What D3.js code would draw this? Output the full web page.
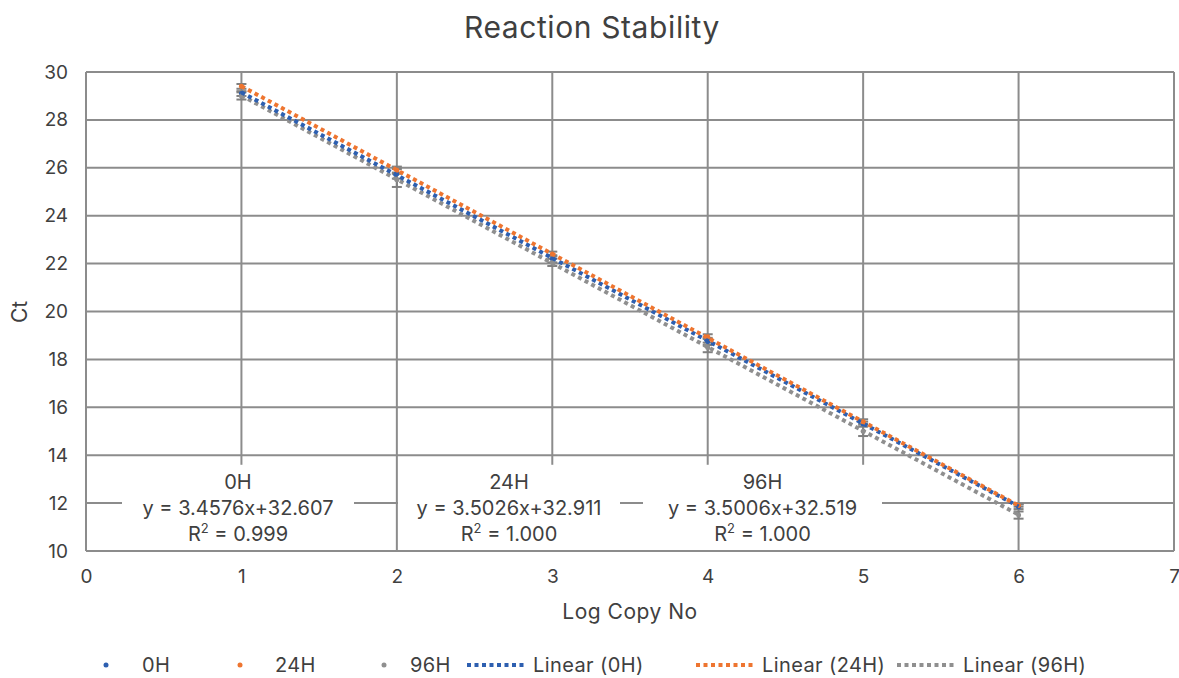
<!DOCTYPE html>
<html>
<head>
<meta charset="utf-8">
<script src="https://cdn.jsdelivr.net/npm/d3@7"></script>
<style>
  body { margin: 0; background: #fff; }
  svg text { font-family: Inter, "Noto Sans", sans-serif; fill: #404040; }
</style>
</head>
<body>
<div id="chart"></div>
<script>
// Data
const logCopy = [1, 2, 3, 4, 5, 6];
const seriesNames = ['0H', '24H', '96H'];
const ct0H = [29.10, 25.75, 22.20, 18.75, 15.30, 11.85];
const ct24H = [29.40, 25.90, 22.40, 18.95, 15.40, 11.90];
const ct96H = [29.00, 25.50, 22.05, 18.50, 15.00, 11.50];
const sd0H = [0.10, 0.20, 0.15, 0.15, 0.10, 0.10];
const sd24H = [0.10, 0.15, 0.10, 0.10, 0.10, 0.05];
const sd96H = [0.15, 0.30, 0.15, 0.20, 0.20, 0.15];
const slopes = [-3.4576, -3.5026, -3.5006];
const intercepts = [32.607, 32.911, 32.519];
const eqLabels = ['y = 3.4576x+32.607', 'y = 3.5026x+32.911', 'y = 3.5006x+32.519'];
const r2Labels = ['0.999', '1.000', '1.000'];
const xTicks = [0, 1, 2, 3, 4, 5, 6, 7];
const yTicks = [10, 12, 14, 16, 18, 20, 22, 24, 26, 28, 30];

const colors = ['#2d5fb0', '#ee7530', '#8f8f8f'];
const ctData = [ct0H, ct24H, ct96H];
const sdData = [sd0H, sd24H, sd96H];

const W = 1179, H = 678;
const margin = {top: 72, right: 5, bottom: 127, left: 86};
const height = H - margin.top - margin.bottom;

const svg = d3.select('#chart').append('svg')
  .attr('width', W).attr('height', H);

svg.append('text')
  .attr('x', 592).attr('y', 38)
  .attr('text-anchor', 'middle')
  .style('font-size', '30px')
  .style('letter-spacing', '0.6px')
  .text('Reaction Stability');

const g = svg.append('g')
  .attr('transform', `translate(${margin.left},${margin.top})`);

const x = d3.scaleLinear().domain([0, 7]).range([0, 1174 - margin.left]);
const y = d3.scaleLinear().domain([10, 30]).range([height, 0]);

const gridColor = '#8c8c8c';

// Grid
g.selectAll('.hgrid').data(yTicks).enter().append('line')
  .attr('x1', 0).attr('x2', x(7))
  .attr('y1', d => y(d)).attr('y2', d => y(d))
  .attr('stroke', gridColor).attr('stroke-width', 2);
g.selectAll('.vgrid').data(xTicks).enter().append('line')
  .attr('x1', d => x(d)).attr('x2', d => x(d))
  .attr('y1', 0).attr('y2', height)
  .attr('stroke', gridColor).attr('stroke-width', 2);

// Axes labels
const yAxis = d3.axisLeft(y).tickValues(yTicks).tickSize(0).tickPadding(18);
g.append('g').call(yAxis).call(s => s.select('.domain').remove())
  .selectAll('text').style('font-size', '19px').style('font-family', 'Inter, sans-serif').attr('fill', '#404040');
const xAxis = d3.axisBottom(x).tickValues(xTicks).tickFormat(d3.format('d')).tickSize(0).tickPadding(19);
g.append('g').attr('transform', `translate(0,${height})`)
  .call(xAxis).call(s => s.select('.domain').remove())
  .selectAll('text').style('font-size', '19px').style('font-family', 'Inter, sans-serif').attr('fill', '#404040');

svg.append('text')
  .attr('x', 630).attr('y', 619)
  .attr('text-anchor', 'middle')
  .style('font-size', '21px')
  .style('letter-spacing', '0.5px')
  .text('Log Copy No');
svg.append('text')
  .attr('transform', 'translate(27,312) rotate(-90)')
  .attr('text-anchor', 'middle')
  .style('font-size', '21px')
  .text('Ct');

// Trendline label boxes (white, covering grid)
const labelBoxes = [[122, 354], [398, 620], [643, 882]];
labelBoxes.forEach((b, i) => {
  g.append('rect')
    .attr('x', b[0] - margin.left).attr('y', y(13.6))
    .attr('width', b[1] - b[0]).attr('height', y(10) - y(13.6) - 1)
    .attr('fill', '#fff');
  const cx = (b[0] + b[1]) / 2 - margin.left;
  const t = g.append('text').attr('text-anchor', 'middle').style('font-size', '20px');
  t.append('tspan').attr('x', cx).attr('y', y(12.6)).text(seriesNames[i]);
  t.append('tspan').attr('x', cx).attr('y', y(11.5)).text(eqLabels[i]);
  const r = t.append('tspan').attr('x', cx).attr('y', y(10.4));
  r.append('tspan').text('R');
  r.append('tspan').attr('dy', -8).style('font-size', '13px').text('2');
  r.append('tspan').attr('dy', 8).text(' = ' + r2Labels[i]);
});

// Error bars
const errColor = '#808080';
ctData.forEach((vals, si) => {
  vals.forEach((v, i) => {
    const sd = sdData[si][i];
    const px = x(logCopy[i]);
    g.append('line').attr('x1', px).attr('x2', px)
      .attr('y1', y(v - sd)).attr('y2', y(v + sd))
      .attr('stroke', errColor).attr('stroke-width', 2);
    [v - sd, v + sd].forEach(e => {
      g.append('line').attr('x1', px - 5).attr('x2', px + 5)
        .attr('y1', y(e)).attr('y2', y(e))
        .attr('stroke', errColor).attr('stroke-width', 2);
    });
  });
});

// Points
ctData.forEach((vals, si) => {
  g.selectAll('.pt' + si).data(vals).enter().append('circle')
    .attr('cx', (d, i) => x(logCopy[i])).attr('cy', d => y(d))
    .attr('r', 2.5).attr('fill', colors[si]);
});

// Trendlines
const line = d3.line().x(d => x(d[0])).y(d => y(d[1]));
[2, 0, 1].forEach(si => {
  const xs = [d3.min(logCopy), d3.max(logCopy)];
  const pts = xs.map(v => [v, slopes[si] * v + intercepts[si]]);
  g.append('path').attr('d', line(pts))
    .attr('fill', 'none').attr('stroke', colors[si])
    .attr('stroke-width', 4).attr('stroke-dasharray', '4 3.5');
});

// Legend
const legY = 665;
const legMarkers = [106, 240, 384];
const legMarkerText = [142, 275, 410];
seriesNames.forEach((n, i) => {
  svg.append('circle').attr('cx', legMarkers[i]).attr('cy', legY).attr('r', 2.5).attr('fill', colors[i]);
  svg.append('text').attr('x', legMarkerText[i]).attr('y', legY + 7)
    .style('font-size', '20px').style('letter-spacing', '0.4px').text(n);
});
const legLines = [467, 696, 897];
seriesNames.forEach((n, i) => {
  svg.append('line').attr('x1', legLines[i]).attr('x2', legLines[i] + 58)
    .attr('y1', legY).attr('y2', legY)
    .attr('stroke', colors[i]).attr('stroke-width', 4).attr('stroke-dasharray', '4 3.5');
  svg.append('text').attr('x', legLines[i] + 66).attr('y', legY + 7)
    .style('font-size', '20px').style('letter-spacing', '0.4px').text('Linear (' + n + ')');
});
</script>
</body>
</html>
